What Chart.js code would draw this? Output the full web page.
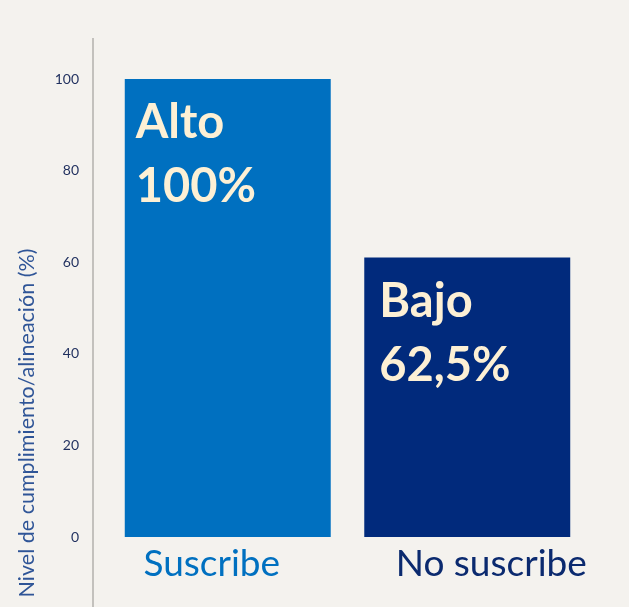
<!DOCTYPE html>
<html>
<head>
<meta charset="utf-8">
<script src="https://cdn.jsdelivr.net/npm/chart.js@4/dist/chart.umd.min.js"></script>
<style>
  html, body { margin: 0; padding: 0; background: #f4f2ee; }
  #chart { display: block; }
</style>
</head>
<body>
<canvas id="chart" width="629" height="607"></canvas>
<script>
// data
const categories = ['Suscribe', 'No suscribe'];
const values = [100, 61];
const levels = ['Alto', 'Bajo'];
const valueLabels = ['100%', '62,5%'];
const yMin = 0;
const yMax = 100;
const yStep = 20;
const yTitle = 'Nivel de cumplimiento/alineación (%)';

const barColors = ['#0070c0', '#012a7c'];
const catColors = ['#0070c0', '#0b2a6f'];
const catShift = [-16, 24];   // category labels are not centered under the bars
const textPad = [11, 15];

// vertical axis line, drawn a bit left of the plot area
const axisLine = {
    id: 'axisLine',
    beforeDatasetsDraw (chart) {
        const { ctx, chartArea } = chart;
        ctx.save();
        ctx.strokeStyle = '#c3c1bd';
        ctx.lineWidth = 2;
        ctx.beginPath();
        ctx.moveTo(chartArea.left - 15, 38);
        ctx.lineTo(chartArea.left - 15, chart.height);
        ctx.stroke();
        ctx.restore();
    }
};

// rotated y title, lower than the center of the axis
const yTitlePlugin = {
    id: 'yTitlePlugin',
    afterDraw (chart) {
        const { ctx } = chart;
        ctx.save();
        ctx.translate(27, 423);
        ctx.rotate(-Math.PI / 2);
        ctx.fillStyle = '#2f5597';
        ctx.font = '21.5px Lato';
        ctx.textAlign = 'center';
        ctx.textBaseline = 'middle';
        ctx.fillText(yTitle, 0, 0);
        ctx.restore();
    }
};

// category names under the bars
const catLabels = {
    id: 'catLabels',
    afterDraw (chart) {
        const { ctx, chartArea } = chart;
        const xs = chart.scales.x;
        ctx.save();
        ctx.font = '37px Lato';
        ctx.textAlign = 'center';
        ctx.textBaseline = 'middle';
        categories.forEach((c, i) => {
            ctx.fillStyle = catColors[i];
            ctx.fillText(c, xs.getPixelForTick(i) + catShift[i], chartArea.bottom + 27);
        });
        ctx.restore();
    }
};

// "Alto / 100%" text inside the bars
const barText = {
    id: 'barText',
    afterDatasetsDraw (chart) {
        const { ctx } = chart;
        const meta = chart.getDatasetMeta(0);
        ctx.save();
        ctx.fillStyle = '#fdf0d5';
        ctx.font = 'bold 47px Lato';
        ctx.textAlign = 'left';
        ctx.textBaseline = 'alphabetic';
        meta.data.forEach((bar, i) => {
            const left = bar.x - bar.width / 2 + textPad[i];
            ctx.fillText(levels[i], left, bar.y + 59);
            ctx.fillText(valueLabels[i], left, bar.y + 123);
        });
        ctx.restore();
    }
};

new Chart(document.getElementById('chart'), {
    type: 'bar',
    data: {
        labels: categories,
        datasets: [{
            data: values,
            backgroundColor: barColors,
            borderWidth: 0,
            barPercentage: 0.86,
            categoryPercentage: 1
        }]
    },
    options: {
        responsive: false,
        animation: false,
        layout: { padding: { top: 79, right: 42, left: 0, bottom: 0 } },
        plugins: {
            legend: { display: false },
            tooltip: { enabled: false }
        },
        scales: {
            x: {
                grid: { display: false },
                border: { display: false },
                ticks: { display: false },
                afterFit (scale) { scale.height = 70; }
            },
            y: {
                min: yMin,
                max: yMax,
                grid: { display: false, drawTicks: false },
                border: { display: false },
                ticks: {
                    stepSize: yStep,
                    color: '#1f2f5e',
                    font: { family: 'Lato', size: 14 },
                    padding: 29
                },
                afterFit (scale) { scale.width = 108; }
            }
        }
    },
    plugins: [axisLine, yTitlePlugin, catLabels, barText]
});
</script>
</body>
</html>
